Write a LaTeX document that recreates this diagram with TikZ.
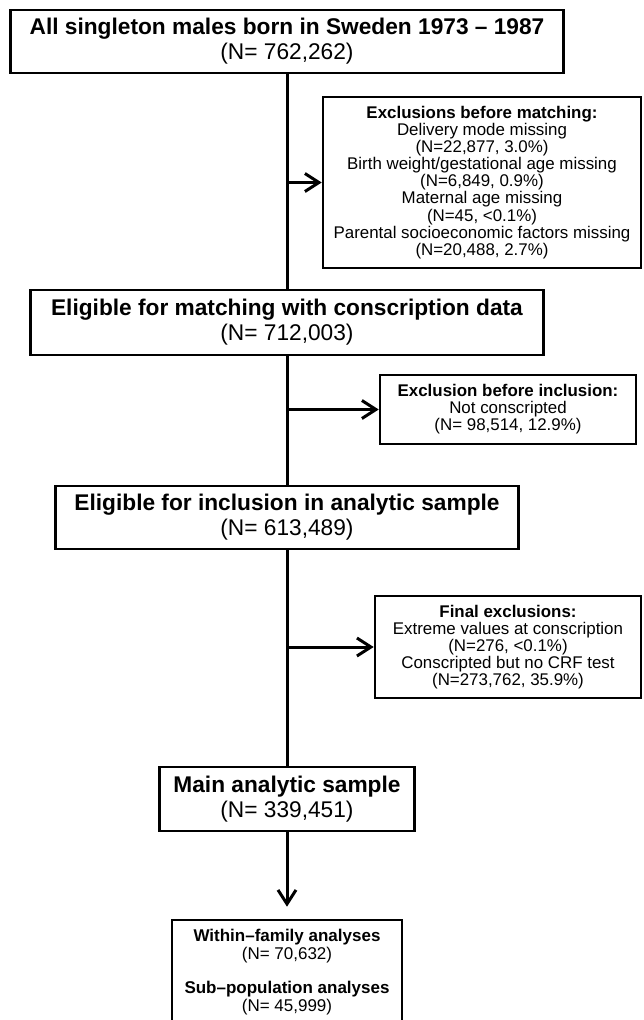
\documentclass[tikz,border=0pt]{standalone}
\usepackage{fontspec}
\setmainfont{Liberation Sans}
\usetikzlibrary{arrows.meta}

\begin{document}
\begin{tikzpicture}[x=1pt,y=-1pt,line width=2.6pt,
  >={Straight Barb[length=14pt,width=18pt]},
  stagebox/.style={draw,align=center,inner sep=0pt,
    font=\fontsize{22.7}{25}\selectfont,
    execute at begin node=\rule{0pt}{24pt}},
  exclbox/.style={draw,align=center,inner sep=0pt,
    font=\fontsize{16.9}{17.1}\selectfont,
    execute at begin node=\rule{0pt}{17pt}},
  flow/.style={line width=3pt}]
  \useasboundingbox (0,0) rectangle (643,1020);

  % main flow
  \node[stagebox,minimum width=553pt,minimum height=63pt] (all) at (287,41.5)
    {\textbf{All singleton males born in Sweden 1973 – 1987}\\(N= 762,262)};
  \node[stagebox,minimum width=513pt,minimum height=65pt] (match) at (287,322.5)
    {\textbf{Eligible for matching with conscription data}\\(N= 712,003)};
  \node[stagebox,minimum width=463pt,minimum height=63pt] (incl) at (287,517.5)
    {\textbf{Eligible for inclusion in analytic sample}\\(N= 613,489)};
  \node[stagebox,minimum width=255pt,minimum height=64pt] (main) at (287,799)
    {\textbf{Main analytic sample}\\(N= 339,451)};
  \node[exclbox,minimum width=230pt,minimum height=104pt,
    font=\fontsize{17}{17.4}\selectfont] (sub) at (287,972)
    {\textbf{Within–family analyses}\\(N= 70,632)\\[17pt]
     \textbf{Sub–population analyses}\\(N= 45,999)};

  % exclusions
  \node[exclbox,minimum width=318pt,minimum height=171pt] (excl1) at (482,182.5)
    {\textbf{Exclusions before matching:}\\Delivery mode missing\\(N=22,877, 3.0\%)\\
     Birth weight/gestational age missing\\(N=6,849, 0.9\%)\\
     Maternal age missing\\(N=45, <0.1\%)\\
     Parental socioeconomic factors missing\\(N=20,488, 2.7\%)};
  \node[exclbox,minimum width=256pt,minimum height=69pt] (excl2) at (508,409.5)
    {\textbf{Exclusion before inclusion:}\\Not conscripted\\(N= 98,514, 12.9\%)};
  \node[exclbox,minimum width=266pt,minimum height=102pt] (excl3) at (508,647)
    {\textbf{Final exclusions:}\\Extreme values at conscription\\(N=276, <0.1\%)\\
     Conscripted but no CRF test\\(N=273,762, 35.9\%)};

  \draw[flow] (all.south) -- (match.north);
  \draw[flow] (match.south) -- (incl.north);
  \draw[flow] (incl.south) -- (main.north);
  \draw[flow,->,shorten >=12pt] (main) -- (sub);

  \draw[flow,->] (excl1.west -| all) -- (excl1.west);
  \draw[flow,->] (excl2.west -| match) -- (excl2.west);
  \draw[flow,->] (excl3.west -| incl) -- (excl3.west);
\end{tikzpicture}
\end{document}
